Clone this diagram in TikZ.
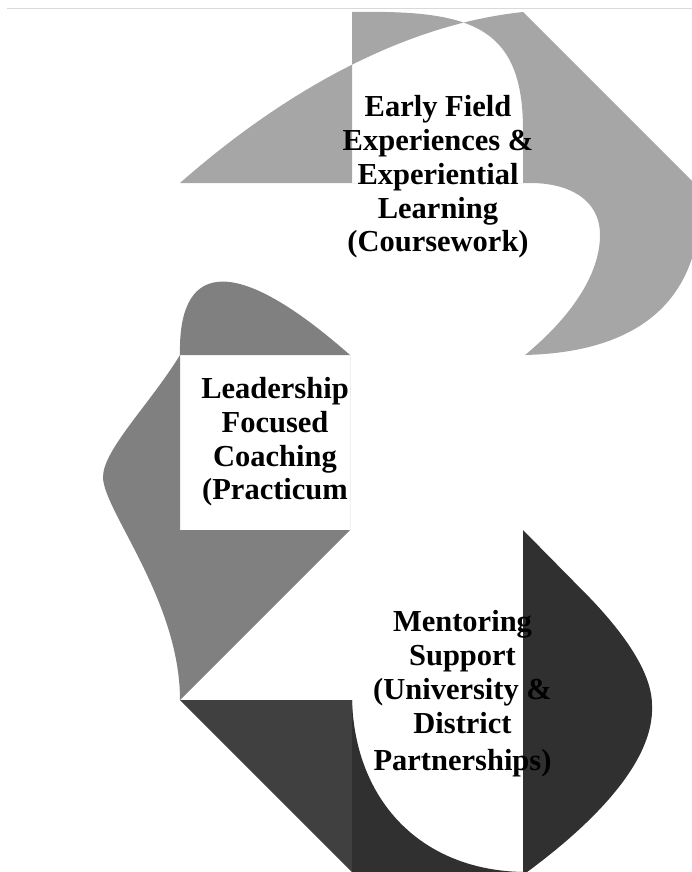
\documentclass[tikz,border=0pt]{standalone}
\usepackage{fontspec}
\setmainfont{Liberation Serif}
\begin{document}
\begin{tikzpicture}[x=1pt, y=-1pt,
  stage/.style={font=\bfseries\fontsize{30.5}{33.75}\selectfont, align=center, inner sep=0pt}]
  \useasboundingbox (0,0) rectangle (692,872);
  \draw[black!15, line width=1.5pt] (7,8.5) -- (692,8.5);

  % Top arc: coursework (text window cut out)
  \fill[black!35, even odd rule]
    (180,183) .. controls (280,95) and (400,25) .. (523,12) -- (700,189)
    .. controls (705,295) and (645,352) .. (525,355)
    .. controls (570,318) and (600,275) .. (600,235)
    .. controls (600,200) and (570,183) .. (530,183) -- cycle
    (352,183) -- (352,12) .. controls (470,10) and (523,25) .. (523,130) -- (523,183) -- cycle;

  % Left arc: practicum
  \fill[black!50, even odd rule]
    (180,355) .. controls (178,270) and (225,245) .. (350,355) -- (350,530) -- (180,700)
    .. controls (180,600) and (103,510) .. (103,477)
    .. controls (103,450) and (150,404) .. (180,355) -- cycle
    (180,355) rectangle (350,530);

  % Bottom arc: partnerships
  \fill[black!75] (180,700) -- (352,700) -- (352,872) -- cycle;
  \fill[black!81]
    (352,700) .. controls (355,800) and (420,870) .. (523,872) -- (523,880) -- (352,880) -- cycle
    (523,530) -- (590,598) .. controls (635,645) and (652,680) .. (652,705)
    .. controls (655,765) and (585,830) .. (523,875) -- cycle;

  \node[stage] (coursework) at (438,177) {Early Field\\Experiences \&\\Experiential\\Learning\\(Coursework)};
  \node[stage] (practicum) at (275,442) {Leadership\\Focused\\Coaching\\(Practicum};
  \node[stage] (mentoring) at (462.5,694) {Mentoring\\Support\\(University \&\\District\\[4pt]Partnerships)};
\end{tikzpicture}
\end{document}
